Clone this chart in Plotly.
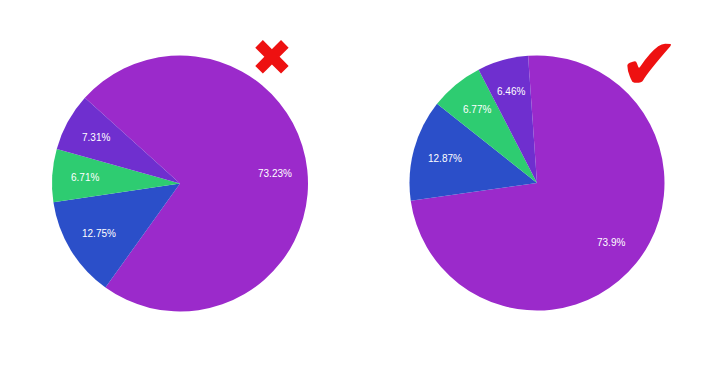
import math
import plotly.graph_objects as go

# Share of each segment, before and after the correction
segments = ["A", "B", "C", "D"]
before_values = [73.23, 12.75, 6.71, 7.31]
after_values = [73.9, 12.87, 6.77, 6.46]

colors = ["#9b2acb", "#2b4fc9", "#2ecc71", "#6f2fcf"]

W, H = 716, 379
LABEL_FONT = dict(family="Liberation Sans, Arial, sans-serif", size=10, color="white")


def dom(cx, cy, r):
    return dict(
        x=[(cx - r) / W, (cx + r) / W],
        y=[(H - cy - r) / H, (H - cy + r) / H],
    )


def add_pie(fig, values, rotation, cx, cy, r):
    fig.add_trace(go.Pie(
        labels=segments,
        values=values,
        sort=False,
        direction="clockwise",
        rotation=rotation,
        marker=dict(colors=colors, line=dict(width=0)),
        textinfo="none",
        domain=dom(cx, cy, r),
        showlegend=False,
        hoverinfo="label+percent",
    ))
    # percentage labels sit on each slice's bisector at ~3/4 of the radius
    total = sum(values)
    cum = 0.0
    for v in values:
        ang = math.radians(rotation + (cum + v / 2) / total * 360.0)
        cum += v
        px = cx + 0.745 * r * math.sin(ang)
        py = cy - 0.745 * r * math.cos(ang)
        fig.add_annotation(
            x=px / W, y=1 - py / H, xref="paper", yref="paper",
            xanchor="center", yanchor="middle",
            text=f"{v}%", showarrow=False, font=LABEL_FONT,
        )


fig = go.Figure()
add_pie(fig, before_values, -48, 180, 183.5, 128)
add_pie(fig, after_values, -4, 537, 183, 127.5)

# Red cross over the first pie, red tick over the second
fig.add_annotation(
    x=272 / W, y=1 - 58 / H, xref="paper", yref="paper",
    xanchor="center", yanchor="middle",
    text="✖", showarrow=False,
    font=dict(family="DejaVu Sans", size=50, color="#ee1111"),
)
fig.add_annotation(
    x=649 / W, y=1 - 64 / H, xref="paper", yref="paper",
    xanchor="center", yanchor="middle",
    text="✔", showarrow=False,
    font=dict(family="DejaVu Sans", size=72, color="#ee1111"),
)

fig.update_layout(
    width=W, height=H,
    margin=dict(l=0, r=0, t=0, b=0),
    paper_bgcolor="white",
    plot_bgcolor="white",
)

fig.write_html("out.html")
